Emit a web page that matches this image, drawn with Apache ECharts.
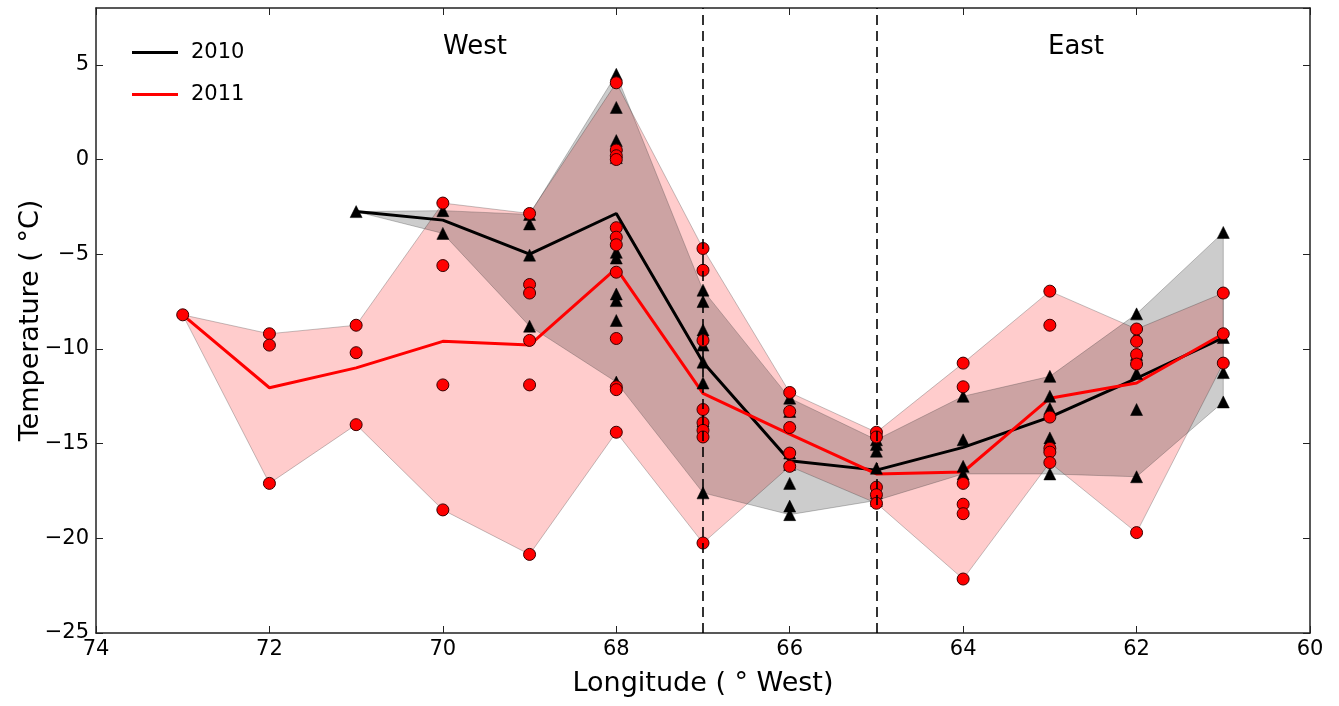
<!DOCTYPE html>
<html>
<head>
<meta charset="utf-8">
<script src="https://cdn.jsdelivr.net/npm/echarts@6/dist/echarts.min.js"></script>
<style>
html,body{margin:0;padding:0;background:#fff;}
#chart{width:1339px;height:706px;}
</style>
</head>
<body>
<div id="chart"></div>
<script>
// ---- data ----
const lon2010 = [71, 70, 69, 68, 67, 66, 65, 64, 63, 62, 61];
const temps2010 = [
  [-2.75],
  [-2.7, -3.9],
  [-2.9, -3.4, -5.05, -8.8],
  [4.5, 2.75, 1.0, 0.75, 0.4, 0.1, -4.9, -5.2, -7.1, -7.45, -8.5, -11.75],
  [-6.9, -7.5, -9.0, -9.8, -10.7, -11.8, -13.8, -17.6],
  [-12.6, -13.3, -15.5, -16.1, -17.1, -18.3, -18.75],
  [-14.8, -15.05, -15.4, -16.3, -17.6, -17.9, -18.0],
  [-12.5, -14.8, -16.2, -16.6],
  [-11.45, -12.5, -13.15, -14.7, -16.6],
  [-8.15, -9.3, -10.3, -11.3, -13.2, -16.75],
  [-3.85, -9.4, -11.25, -12.8]
];
const mean2010 = [-2.75, -3.2, -5.0, -2.85, -10.7, -15.9, -16.4, -15.2, -13.6, -11.55, -9.4];

const lon2011 = [73, 72, 71, 70, 69, 68, 67, 66, 65, 64, 63, 62, 61];
const temps2011 = [
  [-8.2],
  [-9.2, -9.8, -17.1],
  [-8.75, -10.2, -14.0],
  [-2.3, -5.6, -11.9, -18.5],
  [-2.85, -6.6, -7.05, -9.55, -11.9, -20.85],
  [4.05, 0.5, 0.2, 0.0, -3.6, -4.1, -4.5, -5.95, -9.45, -12.0, -12.15, -14.4],
  [-4.7, -5.85, -9.55, -13.2, -13.9, -14.3, -14.65, -20.25],
  [-12.3, -13.3, -14.15, -15.5, -16.2],
  [-14.4, -14.65, -17.3, -17.7, -18.15],
  [-10.75, -12.0, -17.1, -18.2, -18.7, -22.15],
  [-6.95, -8.75, -13.6, -15.25, -15.45, -16.0],
  [-8.95, -9.6, -10.3, -10.8, -19.7],
  [-7.05, -9.2, -10.75]
];
const mean2011 = [-8.2, -12.05, -11.0, -9.6, -9.8, -5.75, -12.35, -14.5, -16.6, -16.5, -12.6, -11.8, -9.2];

const xTicks = [74, 72, 70, 68, 66, 64, 62, 60];
const yTicks = [-25, -20, -15, -10, -5, 0, 5];
const dividers = [67, 65];
const regionLabels = ['West', 'East'];

// ---- helpers ----
const FONT = 'DejaVu Sans';
function points(lons, temps) {
  const out = [];
  lons.forEach((x, i) => temps[i].forEach(t => out.push([x, t])));
  return out;
}
function bandSeries(lons, temps, fill) {
  const upper = temps.map(a => Math.max.apply(null, a));
  const lower = temps.map(a => Math.min.apply(null, a));
  return {
    type: 'custom', silent: true, z: 1,
    data: [[lons[0], upper[0]]],
    renderItem: function (params, api) {
      const pts = [];
      lons.forEach((x, i) => pts.push(api.coord([x, upper[i]])));
      for (let i = lons.length - 1; i >= 0; i--) pts.push(api.coord([lons[i], lower[i]]));
      return {
        type: 'polygon',
        shape: { points: pts },
        style: { fill: fill, stroke: 'rgba(60,60,60,0.3)', lineWidth: 1 }
      };
    }
  };
}
const minus = v => String(v).replace('-', '\u2212');
const axisLineStyle = { show: true, onZero: false, lineStyle: { color: '#222', width: 1.5 } };
const tickStyle = { show: true, inside: true, length: 7, lineStyle: { color: '#222' } };

const chart = echarts.init(document.getElementById('chart'));
const option = {
  animation: false,
  backgroundColor: '#fff',
  grid: { left: 96, right: 29, top: 8, bottom: 73 },
  legend: {
    data: ['2010', '2011'],
    orient: 'vertical',
    left: 127, top: 37,
    itemWidth: 46, itemHeight: 3,
    itemGap: 21,
    icon: 'rect',
    textStyle: { fontFamily: FONT, fontSize: 21, color: '#000', padding: [0, 0, 0, 8] }
  },
  xAxis: [{
    type: 'value', min: 60, max: 74, interval: 2, inverse: true,
    name: 'Longitude ( \u00B0 West)', nameLocation: 'middle', nameGap: 37,
    nameMoveOverlap: false,
    nameTextStyle: { fontFamily: FONT, fontSize: 27, color: '#000' },
    axisLine: axisLineStyle,
    axisTick: tickStyle,
    axisLabel: { fontFamily: FONT, fontSize: 21, color: '#000', margin: 6,
      formatter: v => xTicks.indexOf(v) >= 0 ? String(v) : '' },
    splitLine: { show: false }
  }, {
    type: 'value', min: 60, max: 74, interval: 2, inverse: true, position: 'top',
    axisLine: axisLineStyle, axisTick: tickStyle,
    axisLabel: { show: false }, splitLine: { show: false }
  }],
  yAxis: [{
    type: 'value', min: -25, max: 8, interval: 5,
    name: 'Temperature ( \u00B0C)', nameLocation: 'middle', nameGap: 52,
    nameMoveOverlap: false,
    nameTextStyle: { fontFamily: FONT, fontSize: 27, color: '#000' },
    axisLine: axisLineStyle,
    axisTick: tickStyle,
    axisLabel: { fontFamily: FONT, fontSize: 21, color: '#000', margin: 7, showMaxLabel: false,
      formatter: v => yTicks.indexOf(v) >= 0 ? minus(v) : '' },
    splitLine: { show: false }
  }, {
    type: 'value', min: -25, max: 8, interval: 5, position: 'right',
    axisLine: axisLineStyle, axisTick: tickStyle,
    axisLabel: { show: false }, splitLine: { show: false }
  }],
  series: [
    bandSeries(lon2011, temps2011, 'rgba(255,0,0,0.2)'),
    bandSeries(lon2010, temps2010, 'rgba(0,0,0,0.2)'),
    {
      name: '2010', type: 'line', z: 2, symbol: 'none', color: '#000',
      lineStyle: { color: '#000', width: 3 },
      data: lon2010.map((x, i) => [x, mean2010[i]])
    },
    {
      name: '2011', type: 'line', z: 2, symbol: 'none', color: '#ff0000',
      lineStyle: { color: '#ff0000', width: 3 },
      data: lon2011.map((x, i) => [x, mean2011[i]])
    },
    {
      name: 'pts2010', type: 'scatter', z: 3, symbol: 'triangle', symbolSize: 12,
      itemStyle: { color: '#000', borderColor: '#000', borderWidth: 0.5, opacity: 1 },
      data: points(lon2010, temps2010)
    },
    {
      name: 'pts2011', type: 'scatter', z: 4, symbol: 'circle', symbolSize: 12,
      itemStyle: { color: '#ff0000', borderColor: '#3a0000', borderWidth: 1, opacity: 1 },
      data: points(lon2011, temps2011)
    },
    {
      name: 'dividers', type: 'line', z: 5, data: [], silent: true,
      markLine: {
        silent: true, symbol: 'none', animation: false,
        label: { show: false },
        lineStyle: { color: '#000', width: 1.6, type: [10, 6] },
        data: dividers.map(x => ({ xAxis: x }))
      }
    }
  ],
  graphic: [
    { type: 'text', x: 475, y: 47, style: { text: regionLabels[0], font: '26px "DejaVu Sans"', fill: '#000', textAlign: 'center', textVerticalAlign: 'middle', verticalAlign: 'middle' } },
    { type: 'text', x: 1076, y: 47, style: { text: regionLabels[1], font: '26px "DejaVu Sans"', fill: '#000', textAlign: 'center', textVerticalAlign: 'middle', verticalAlign: 'middle' } }
  ]
};
chart.setOption(option);
</script>
</body>
</html>
